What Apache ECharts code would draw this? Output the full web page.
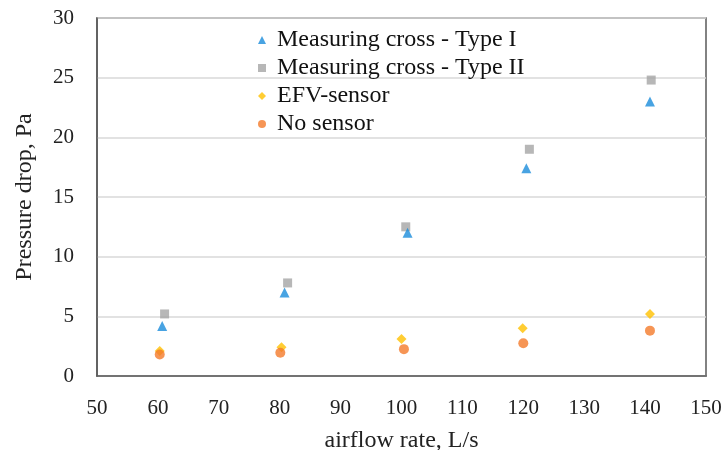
<!DOCTYPE html>
<html><head><meta charset="utf-8">
<script src="https://cdn.jsdelivr.net/npm/echarts@6/dist/echarts.min.js"></script>
<style>html,body{margin:0;padding:0;background:#fff}#c{width:722px;height:450px}</style>
</head><body><div id="c"></div>
<script>
const seriesNames = ['Measuring cross - Type I','Measuring cross - Type II','EFV-sensor','No sensor'];
const typeI_x = [60.7, 80.8, 101, 120.5, 140.8];
const typeI_y = [4.2, 7.0, 12.0, 17.4, 23.0];
const typeII_x = [61.1, 81.3, 100.7, 121, 141];
const typeII_y = [5.2, 7.8, 12.5, 19.0, 24.8];
const efv_x = [60.3, 80.3, 100, 119.9, 140.8];
const efv_y = [2.1, 2.4, 3.1, 4.0, 5.2];
const none_x = [60.3, 80.1, 100.4, 120, 140.8];
const none_y = [1.8, 1.95, 2.25, 2.75, 3.8];

const pairs = (xs, ys) => xs.map((x, i) => [x, ys[i]]);
const font = 'Liberation Serif';
const chart = echarts.init(document.getElementById('c'), null, {renderer:'canvas'});
chart.setOption({
  animation: false,
  grid: {left: 97, right: 16, top: 18, bottom: 74, show: true, borderColor: '#595959', borderWidth: 1.5, containLabel: false, outerBoundsMode: 'none'},
  legend: {
    orient: 'vertical', left: 253, top: 21, itemGap: 0, itemWidth: 8, itemHeight: 8,
    textStyle: {fontFamily: font, fontSize: 24, color: '#111', lineHeight: 28, padding: [0, 0, 0, 6]},
    data: seriesNames.map(n => ({name: n}))
  },
  xAxis: {
    type: 'value', min: 50, max: 150, interval: 10,
    name: 'airflow rate, L/s', nameLocation: 'middle', nameGap: 53,
    nameTextStyle: {fontFamily: font, fontSize: 24, color: '#222'},
    axisLine: {show: true, lineStyle: {color: '#595959', width: 1.5}},
    axisTick: {show: false},
    splitLine: {show: false},
    axisLabel: {fontFamily: font, fontSize: 21, color: '#222', margin: 22}
  },
  yAxis: {
    type: 'value', min: 0, max: 30, interval: 5,
    name: 'Pressure drop, Pa', nameLocation: 'middle', nameGap: 60,
    nameTextStyle: {fontFamily: font, fontSize: 24, color: '#222'},
    axisLine: {show: true, lineStyle: {color: '#595959', width: 1.5}},
    axisTick: {show: false},
    splitLine: {show: true, lineStyle: {color: '#d9d9d9', width: 1.5}},
    axisLabel: {fontFamily: font, fontSize: 21, color: '#222', margin: 23}
  },
  series: [
    {name: seriesNames[0], type: 'scatter', symbol: 'triangle', symbolSize: 10, itemStyle: {color: '#1a8cdb'}, data: pairs(typeI_x, typeI_y), z: 3},
    {name: seriesNames[1], type: 'scatter', symbol: 'rect', symbolSize: 9, itemStyle: {color: '#a5a5a5'}, data: pairs(typeII_x, typeII_y), z: 2},
    {name: seriesNames[2], type: 'scatter', symbol: 'diamond', symbolSize: 10, itemStyle: {color: '#ffc000'}, data: pairs(efv_x, efv_y), z: 2},
    {name: seriesNames[3], type: 'scatter', symbol: 'circle', symbolSize: 10, itemStyle: {color: '#f47b2a'}, data: pairs(none_x, none_y), z: 3}
  ]
});
</script></body></html>
